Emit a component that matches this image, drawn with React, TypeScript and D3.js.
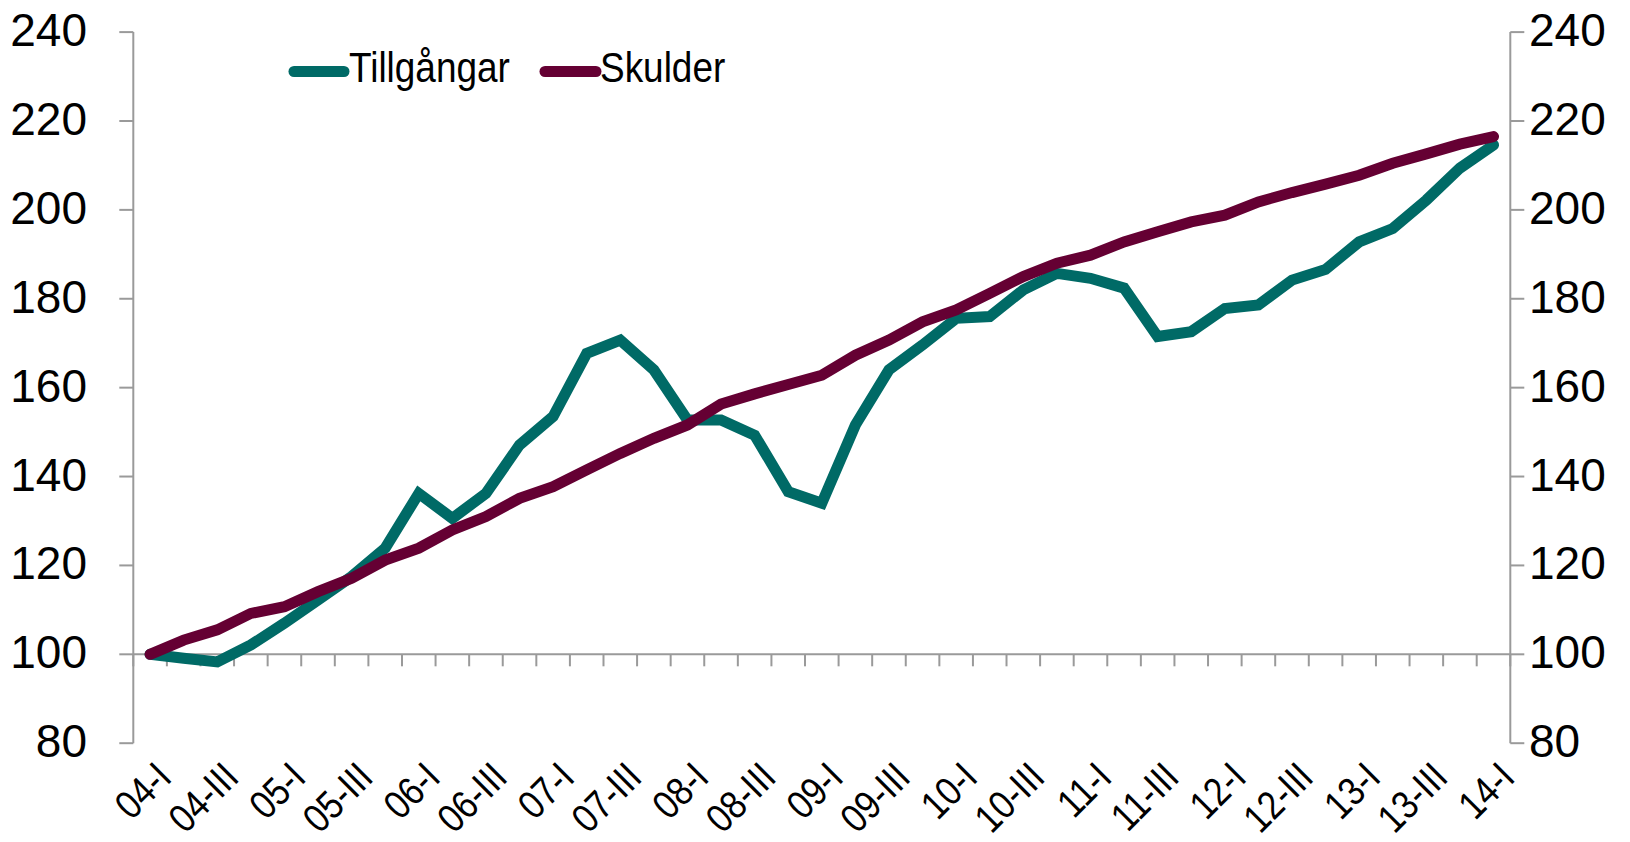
// @ts-nocheck
import * as d3 from "d3";

const quarters = [
  "04-I", "04-II", "04-III", "04-IV",
  "05-I", "05-II", "05-III", "05-IV",
  "06-I", "06-II", "06-III", "06-IV",
  "07-I", "07-II", "07-III", "07-IV",
  "08-I", "08-II", "08-III", "08-IV",
  "09-I", "09-II", "09-III", "09-IV",
  "10-I", "10-II", "10-III", "10-IV",
  "11-I", "11-II", "11-III", "11-IV",
  "12-I", "12-II", "12-III", "12-IV",
  "13-I", "13-II", "13-III", "13-IV",
  "14-I",
];

const tickLabels = [
  "04-I", "04-III", "05-I", "05-III", "06-I", "06-III", "07-I", "07-III",
  "08-I", "08-III", "09-I", "09-III", "10-I", "10-III", "11-I", "11-III",
  "12-I", "12-III", "13-I", "13-III", "14-I",
];

const tillgangar = [
  100, 99.1, 98.3, 102.1, 107.0, 112.2, 117.5, 123.9, 136.2, 130.6,
  136.2, 147.1, 153.5, 167.7, 170.7, 164.0, 152.7, 152.7, 149.3, 136.6,
  134.0, 151.6, 164.0, 169.6, 175.6, 176.0, 182.0, 185.7, 184.6, 182.4,
  171.5, 172.6, 177.8, 178.6, 184.2, 186.6, 192.8, 195.8, 202.2, 209.4,
  214.6,
];

const skulder = [
  100, 103.2, 105.5, 109.2, 110.7, 114.1, 117.1, 121.2, 123.9, 128.0,
  131.0, 135.1, 137.7, 141.5, 145.2, 148.6, 151.6, 156.3, 158.6, 160.7,
  162.8, 167.3, 170.7, 174.8, 177.5, 181.2, 185.0, 188.0, 189.8, 192.8,
  195.1, 197.3, 198.8, 201.8, 203.9, 205.8, 207.8, 210.5, 212.6, 214.8,
  216.5,
];

const yTicks = [80, 100, 120, 140, 160, 180, 200, 220, 240];

const W = 1630;
const H = 842;
const left = 133.3;
const right = 1510.3;
const top = 32.1;
const bottom = 743.2;

const TEAL = "#006a66";
const MAROON = "#650033";
const AXIS = "#9a9a9a";
const FONT = "'Liberation Sans', Arimo, sans-serif";

// the original face is a condensed sans, so squeeze the text a bit
function Label({ x, y, rotate = 0, sx, anchor, size, dy = 0, children }) {
  return (
    <g transform={`translate(${x},${y}) rotate(${rotate}) scale(${sx},1)`}>
      <text x={0} y={0} dy={dy} textAnchor={anchor} fontSize={size} fill="#000">
        {children}
      </text>
    </g>
  );
}

export default function App() {
  const x = d3.scaleBand().domain(quarters).range([left, right]);
  const y = d3.scaleLinear().domain([80, 240]).range([bottom, top]);
  const cx = (q) => x(q) + x.bandwidth() / 2;

  const line = d3
    .line<number>()
    .x((_, i) => cx(quarters[i]))
    .y((d) => y(d));

  const y0 = y(100);
  const boundaries = quarters.map((q) => x(q)).concat([right]);

  const series = [
    { name: "Tillgångar", values: tillgangar, color: TEAL },
    { name: "Skulder", values: skulder, color: MAROON },
  ];

  return (
    <svg
      width={W}
      height={H}
      style={{ position: "absolute", left: 0, top: 0, background: "#fff" }}
      fontFamily={FONT}
    >
      {/* left axis */}
      <line x1={left} x2={left} y1={top} y2={bottom} stroke={AXIS} strokeWidth={2} />
      {yTicks.map((t) => (
        <g key={"l" + t}>
          <line x1={left - 14} x2={left} y1={y(t)} y2={y(t)} stroke={AXIS} strokeWidth={2} />
          <Label x={87} y={y(t) + 14} sx={1} anchor="end" size={46}>
            {t}
          </Label>
        </g>
      ))}

      {/* right axis */}
      <line x1={right} x2={right} y1={top} y2={bottom} stroke={AXIS} strokeWidth={2} />
      {yTicks.map((t) => (
        <g key={"r" + t}>
          <line x1={right} x2={right + 14} y1={y(t)} y2={y(t)} stroke={AXIS} strokeWidth={2} />
          <Label x={1529} y={y(t) + 14} sx={1} anchor="start" size={46}>
            {t}
          </Label>
        </g>
      ))}

      {/* category axis crossing at 100 */}
      <line x1={left} x2={right} y1={y0} y2={y0} stroke={AXIS} strokeWidth={2} />
      {boundaries.map((b, i) => (
        <line key={"t" + i} x1={b} x2={b} y1={y0} y2={y0 + 12} stroke={AXIS} strokeWidth={2} />
      ))}
      {tickLabels.map((lab) => (
        <Label key={lab} x={cx(lab) + 3} y={759} rotate={-45} sx={0.86} anchor="end" size={40} dy="0.72em">
          {lab}
        </Label>
      ))}

      {/* series */}
      {series.map((s) => (
        <path
          key={s.name}
          d={line(s.values)}
          fill="none"
          stroke={s.color}
          strokeWidth={11}
          strokeLinecap="round"
          strokeLinejoin="miter"
        />
      ))}

      {/* legend */}
      <line x1={294} x2={344} y1={71.5} y2={71.5} stroke={TEAL} strokeWidth={11} strokeLinecap="round" />
      <Label x={349} y={82} sx={0.88} anchor="start" size={42}>Tillgångar</Label>
      <line x1={545} x2={596} y1={71.5} y2={71.5} stroke={MAROON} strokeWidth={11} strokeLinecap="round" />
      <Label x={600} y={82} sx={0.88} anchor="start" size={42}>Skulder</Label>
    </svg>
  );
}
